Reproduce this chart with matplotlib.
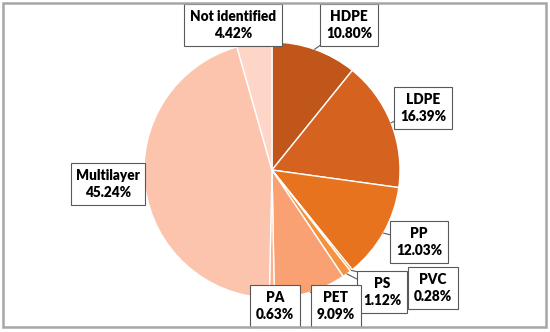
import numpy as np
import matplotlib
matplotlib.use("Agg")
import matplotlib.pyplot as plt
from matplotlib.patches import Rectangle

categories = ["HDPE", "LDPE", "PP", "PVC", "PS", "PET", "PA", "Multilayer", "Not identified"]
values = [10.80, 16.39, 12.03, 0.28, 1.12, 9.09, 0.63, 45.24, 4.42]
colors = ["#C0561A", "#D5631F", "#E8731F", "#F08425", "#F5923D", "#F9A172",
          "#FAB091", "#FCC3AD", "#FDD6C8"]
# label box centres in pixel coordinates (x from left, y from top)
label_pos = [(349, 25), (423, 108), (419, 242), (433, 288), (382, 292),
             (336, 306), (275, 306), (108, 184), (233, 25)]

W, H = 550, 332
fig = plt.figure(figsize=(5.5, 3.32), dpi=100)
ax = fig.add_axes([0, 0, 1, 1])
ax.set_xlim(0, W)
ax.set_ylim(0, H)
ax.set_aspect("equal")
ax.axis("off")

cx, cy, r = 272, H - 170, 128
wedges, _ = ax.pie(values, colors=colors, startangle=90, counterclock=False,
                   center=(cx, cy), radius=r,
                   wedgeprops=dict(edgecolor="white", linewidth=1))
ax.set_xlim(0, W)
ax.set_ylim(0, H)

plt.rcParams["font.family"] = ["Lato", "DejaVu Sans"]
for w, cat, val, (lx, ly) in zip(wedges, categories, values, label_pos):
    ang = np.deg2rad((w.theta1 + w.theta2) / 2)
    px = cx + r * np.cos(ang)
    py = cy + r * np.sin(ang)
    ax.annotate(f"{cat}\n{val:.2f}%", xy=(px, py), xytext=(lx, H - ly),
                ha="center", va="center", fontsize=9.8, fontweight="heavy",
                family=["Lato", "DejaVu Sans"], color="#000000",
                linespacing=1.4,
                bbox=dict(boxstyle="square,pad=0.4", fc="white", ec="#595959", lw=0.8),
                arrowprops=dict(arrowstyle="-", color="#595959", lw=0.8,
                                shrinkA=0, shrinkB=0))

fig.patches.append(Rectangle((3 / W, 5 / H), 543 / W, 324 / H, transform=fig.transFigure,
                             fill=False, ec="#A6A6A6", lw=1.8))
fig.savefig("out.png", dpi=100)
